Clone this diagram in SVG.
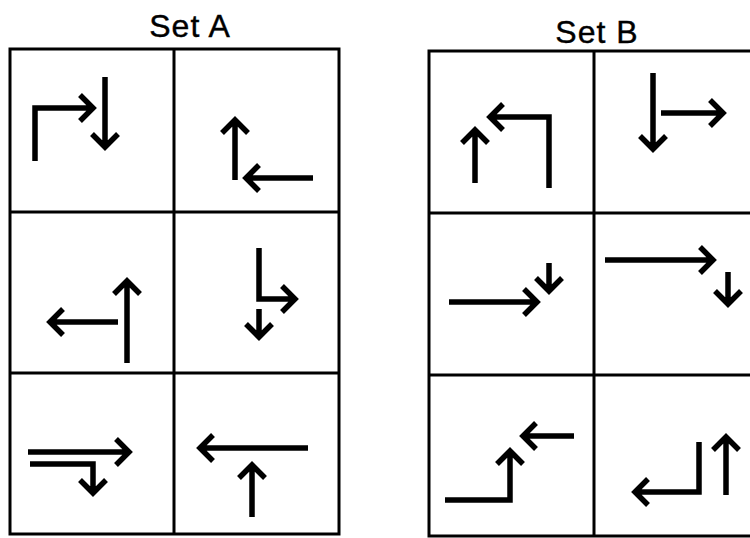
<svg xmlns="http://www.w3.org/2000/svg" width="750" height="538" viewBox="0 0 750 538">
<style>
.grid{stroke:#000;stroke-width:3;fill:none}
.ar{stroke:#000;stroke-width:5.5;fill:none;stroke-linejoin:miter;stroke-linecap:butt}
.t{font-family:"Liberation Sans",Arial,sans-serif;font-size:32px;fill:#000;text-anchor:middle;stroke:#000;stroke-width:0.4}
</style>
<rect width="750" height="538" fill="#fff"/>
<g id="titles">
<text class="t" x="190" y="37" letter-spacing="1">Set A</text>
<text class="t" x="597" y="43" letter-spacing="1">Set B</text>
</g>
<g id="setA-grid">
<rect class="grid" x="10" y="49" width="329" height="485"/>
<line class="grid" x1="174" y1="49" x2="174" y2="534"/>
<line class="grid" x1="10" y1="212" x2="339" y2="212"/>
<line class="grid" x1="10" y1="373" x2="339" y2="373"/>
</g>
<g id="setB-grid">
<path class="grid" d="M752 51 H429 V536 H752"/>
<line class="grid" x1="594" y1="51" x2="594" y2="536"/>
<line class="grid" x1="429" y1="213" x2="752" y2="213"/>
<line class="grid" x1="429" y1="375" x2="752" y2="375"/>
</g>
<g id="connectors">
<g id="A1">
<path class="ar" d="M35 161 V108 H93 M80 95 L93 108 L80 121"/>
<path class="ar" d="M105 77 V147 M92 134 L105 147 L118 134"/>
</g>
<g id="A2">
<path class="ar" d="M235 180 V120 M222 133 L235 120 L248 133"/>
<path class="ar" d="M313 178 H246 M259 165 L246 178 L259 191"/>
</g>
<g id="A3">
<path class="ar" d="M127 363 V281 M114 294 L127 281 L140 294"/>
<path class="ar" d="M118 322 H50 M63 309 L50 322 L63 335"/>
</g>
<g id="A4">
<path class="ar" d="M259 248 V299 H295 M282 286 L295 299 L282 312"/>
<path class="ar" d="M259 309 V337 M246 324 L259 337 L272 324"/>
</g>
<g id="A5">
<path class="ar" d="M28 452 H129 M116 439 L129 452 L116 465"/>
<path class="ar" d="M30 464 H93 V493 M80 480 L93 493 L106 480"/>
</g>
<g id="A6">
<path class="ar" d="M308 448 H200 M213 435 L200 448 L213 461"/>
<path class="ar" d="M252 517 V465 M239 478 L252 465 L265 478"/>
</g>
<g id="B1">
<path class="ar" d="M475 183 V130 M462 143 L475 130 L488 143"/>
<path class="ar" d="M549 188 V117 H490 M503 104 L490 117 L503 130"/>
</g>
<g id="B2">
<path class="ar" d="M653 73 V149 M640 136 L653 149 L666 136"/>
<path class="ar" d="M661 113 H723 M710 100 L723 113 L710 126"/>
</g>
<g id="B3">
<path class="ar" d="M449 302 H537 M524 289 L537 302 L524 315"/>
<path class="ar" d="M549 263 V291 M536 278 L549 291 L562 278"/>
</g>
<g id="B4">
<path class="ar" d="M605 260 H713 M700 247 L713 260 L700 273"/>
<path class="ar" d="M728 272 V304 M715 291 L728 304 L741 291"/>
</g>
<g id="B5">
<path class="ar" d="M574 436 H523 M536 423 L523 436 L536 449"/>
<path class="ar" d="M445 500 H510 V451 M497 464 L510 451 L523 464"/>
</g>
<g id="B6">
<path class="ar" d="M699 442 V492 H635 M648 479 L635 492 L648 505"/>
<path class="ar" d="M726 495 V437 M713 450 L726 437 L739 450"/>
</g>
</g>
</svg>
